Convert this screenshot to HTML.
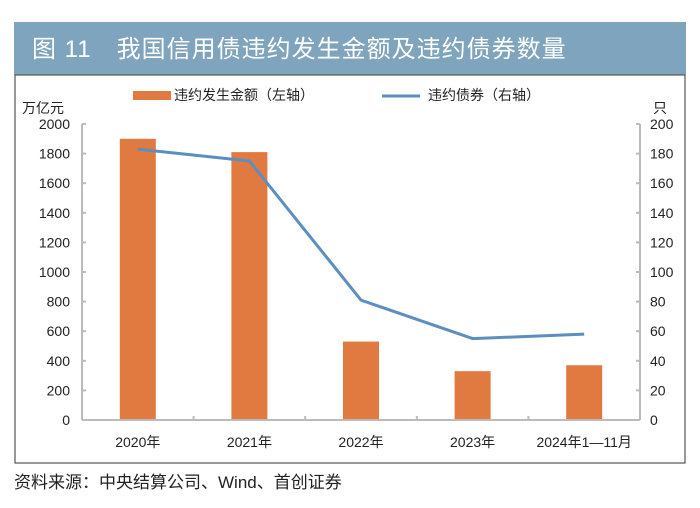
<!DOCTYPE html>
<html><head><meta charset="utf-8"><style>
body{margin:0;width:700px;height:503px;background:#fff;overflow:hidden;font-family:"Liberation Sans","Noto Sans CJK SC",sans-serif}
svg text{font-family:"Liberation Sans","Noto Sans CJK SC",sans-serif}
</style></head><body>
<svg width="700" height="503">
<rect x="14" y="22" width="672" height="53" fill="#7fa4bd"/>
<text x="32" y="57" font-size="24" letter-spacing="1" fill="#fff">图 11　我国信用债违约发生金额及违约债券数量</text>
<rect x="15" y="75" width="670" height="388" fill="none" stroke="#555" stroke-width="1.2"/>
<g id="plot"></g>
<rect x="133" y="91" width="38" height="9" fill="#e07a40"/>
<text x="174" y="100" font-size="14" fill="#222">违约发生金额（左轴）</text>
<line x1="382" y1="96" x2="420" y2="96" stroke="#5a8fbf" stroke-width="3"/>
<text x="428" y="100" font-size="14" fill="#222">违约债券（右轴）</text>
<text x="22" y="113" font-size="14" fill="#222">万亿元</text>
<text x="653" y="113" font-size="14" fill="#222">只</text>
<text x="14" y="488" font-size="17" fill="#222">资料来源：中央结算公司、Wind、首创证券</text>
</svg>
<script>
const categories=["2020年","2021年","2022年","2023年","2024年1—11月"];
const amounts=[1900,1810,530,330,370];
const counts=[183,175,81,55,58];
const leftTicks=[0,200,400,600,800,1000,1200,1400,1600,1800,2000];
const rightTicks=[0,20,40,60,80,100,120,140,160,180,200];
const NS="http://www.w3.org/2000/svg";
const g=document.getElementById('plot');
const x0=82,x1=640,yTop=124,yBot=420;
const yL=v=>yBot-(v/2000)*(yBot-yTop);
const yR=v=>yBot-(v/200)*(yBot-yTop);
const band=(x1-x0)/categories.length;
const xc=i=>x0+band*(i+0.5);
function mk(t,a){const e=document.createElementNS(NS,t);for(const k in a)e.setAttribute(k,a[k]);g.appendChild(e);return e;}
let e;
amounts.forEach((v,i)=>{
 e=mk('rect',{x:xc(i)-18,y:yL(v),width:36,height:yBot-yL(v),fill:'#e07a40'});
 
 
});
e=mk('polyline',{points:counts.map((v,i)=>xc(i)+','+yR(v)).join(' '),fill:'none',stroke:'#5a8fbf','stroke-width':3,'stroke-linejoin':'round'});


e=mk('line',{x1:x0,y1:yTop,x2:x0,y2:yBot,stroke:'#bbb','stroke-width':2});


e=mk('line',{x1:x1,y1:yTop,x2:x1,y2:yBot,stroke:'#bbb','stroke-width':2});


e=mk('line',{x1:x0,y1:yBot,x2:x1,y2:yBot,stroke:'#bbb','stroke-width':2});


leftTicks.forEach(v=>{
 mk('line',{x1:x0,y1:yL(v),x2:x0+4,y2:yL(v),stroke:'#bbb','stroke-width':2});
 e=mk('text',{x:70,y:yL(v)+5,'font-size':14,'text-anchor':'end',fill:'#222'});e.textContent=v;
 
 
});
rightTicks.forEach(v=>{
 mk('line',{x1:x1-4,y1:yR(v),x2:x1,y2:yR(v),stroke:'#bbb','stroke-width':2});
 e=mk('text',{x:650,y:yR(v)+5,'font-size':14,fill:'#222'});e.textContent=v;
 
 
});
for(let i=1;i<categories.length;i++)mk('line',{x1:x0+band*i,y1:yBot,x2:x0+band*i,y2:yBot-4,stroke:'#bbb','stroke-width':2});
categories.forEach((c,i)=>{
 e=mk('text',{x:xc(i),y:447,'font-size':14,'text-anchor':'middle',fill:'#222'});e.textContent=c;
 
 
});
</script>
</body></html>
